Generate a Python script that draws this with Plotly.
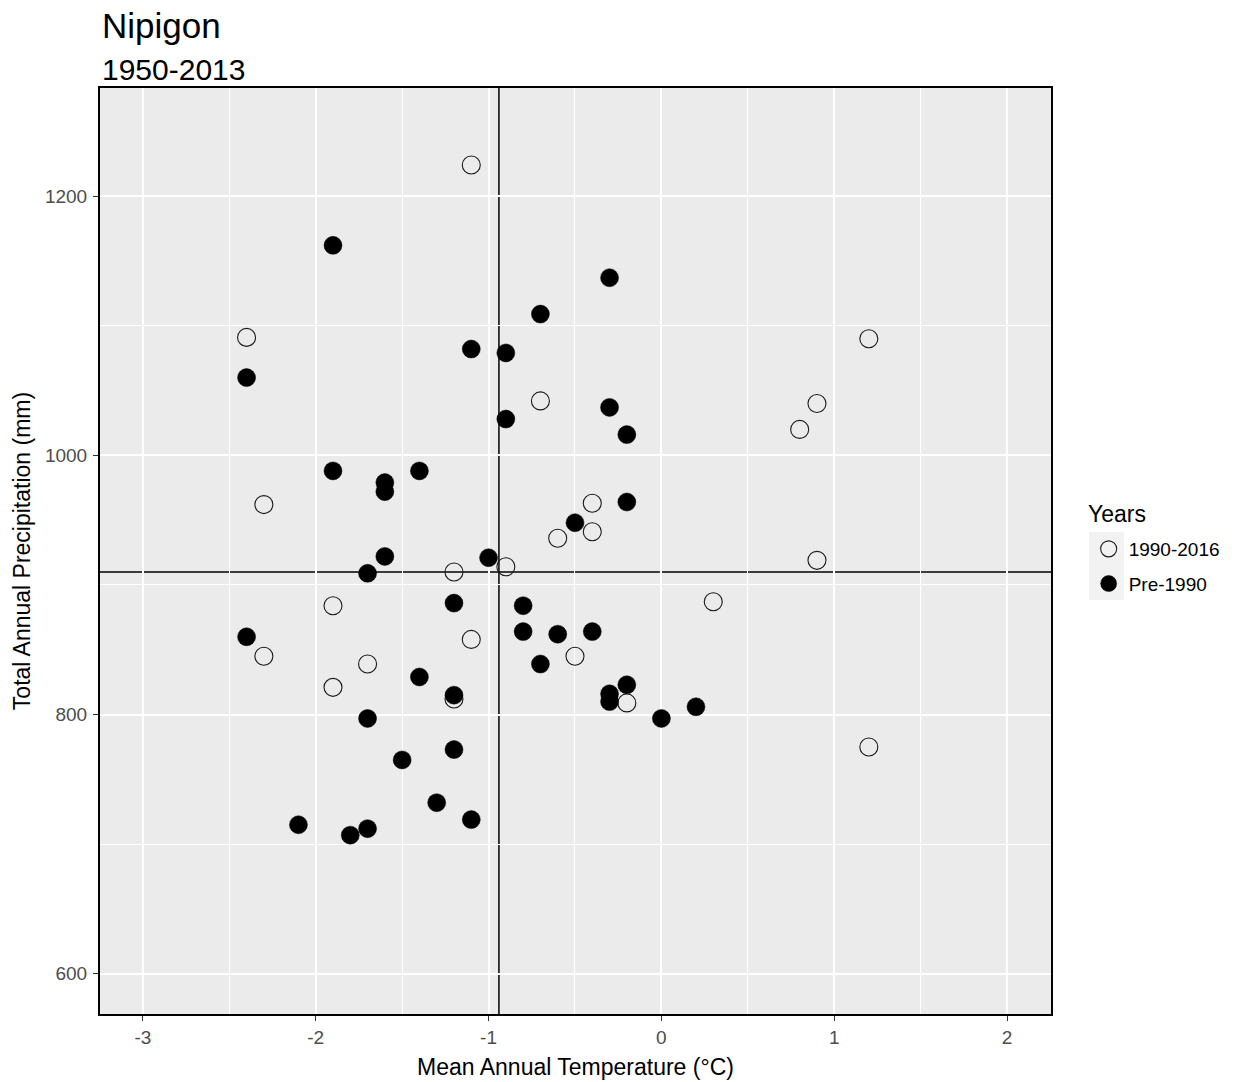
import plotly.graph_objects as go

# ---- data ----
recent_temp = [-1.1, -2.4, -2.3, -0.7, 1.2, 0.9, 0.8, -0.4, -0.4, -0.6, -0.9, -1.2,
               0.9, -1.9, 0.3, -1.1, -2.3, -0.5, -1.7, -1.9, -1.2, -0.2, 1.2]
recent_precip = [1224, 1091, 962, 1042, 1090, 1040, 1020, 963, 941, 936, 914, 910,
                 919, 884, 887, 858, 845, 845, 839, 821, 812, 809, 775]

pre_temp = [-1.9, -0.3, -0.7, -1.1, -0.9, -2.4, -0.9, -0.3, -0.2, -1.9, -1.6, -1.6,
            -1.4, -0.2, -0.5, -1.6, -1.0, -1.7, -1.2, -0.8, -0.8, -0.6, -0.4, -2.4,
            -0.7, -1.4, -0.2, -0.3, -0.3, -1.2, 0.2, 0.0, -1.7, -1.2, -1.5, -1.3,
            -1.1, -2.1, -1.7, -1.8]
pre_precip = [1162, 1137, 1109, 1082, 1079, 1060, 1028, 1037, 1016, 988, 979, 972,
              988, 964, 948, 922, 921, 909, 886, 884, 864, 862, 864, 860,
              839, 829, 823, 816, 810, 815, 806, 797, 797, 773, 765, 732,
              719, 715, 712, 707]

mean_temp = -0.94
mean_precip = 910

series_names = ["1990-2016", "Pre-1990"]
legend_title = "Years"
x_ticks = [-3, -2, -1, 0, 1, 2]
y_ticks = [600, 800, 1000, 1200]

FONT = "Liberation Sans, Arial, sans-serif"

fig = go.Figure()
fig.add_trace(go.Scatter(
    x=recent_temp, y=recent_precip, mode="markers", name=series_names[0],
    legendgroup="a",
    marker=dict(symbol="circle-open", size=18, color="#1a1a1a", line=dict(width=1.1)),
))
fig.add_trace(go.Scatter(
    x=pre_temp, y=pre_precip, mode="markers", name=series_names[1],
    legendgroup="b",
    marker=dict(symbol="circle", size=18, color="black", line=dict(width=0.5, color="black")),
))

fig.add_vline(x=mean_temp, line=dict(color="black", width=1.5), layer="below")
fig.add_hline(y=mean_precip, line=dict(color="black", width=1.5), layer="below")

# legend key backgrounds (ggplot-style grey key boxes)
key_x0, key_x1 = 1.0399, 1.0767
key_rows = [(0.4827, 0.5205), (0.4471, 0.4827)]
for y0, y1 in key_rows:
    fig.add_shape(type="rect", xref="paper", yref="paper", x0=key_x0, x1=key_x1,
                  y0=y0, y1=y1, fillcolor="#F2F2F2", line=dict(width=0), layer="below")

axis_common = dict(
    showgrid=True, gridcolor="white", gridwidth=1.6, automargin=False,
    zeroline=False, showline=True, mirror=True, linecolor="black", linewidth=2,
    ticks="outside", ticklen=5, tickwidth=1.3, tickcolor="#333333",
    tickfont=dict(family=FONT, size=19, color="#4D4D4D"),
    title_font=dict(family=FONT, size=23, color="black"),
)

fig.update_xaxes(
    **axis_common,
    range=[-3.248, 2.254], tickvals=x_ticks, ticktext=[str(v) for v in x_ticks],
    minor=dict(tickvals=[-2.5, -1.5, -0.5, 0.5, 1.5], showgrid=True, gridcolor="white", gridwidth=0.8, ticks=""),
    ticklabelstandoff=0,
    title_text="Mean Annual Temperature (°C)", title_standoff=12,
)
fig.update_yaxes(
    **axis_common,
    range=[569, 1283.4], tickvals=y_ticks, ticktext=[str(v) for v in y_ticks],
    minor=dict(tickvals=[700, 900, 1100], showgrid=True, gridcolor="white", gridwidth=0.8, ticks=""),
    ticklabelstandoff=2,
    title_text="Total Annual Precipitation (mm)", title_standoff=8,
)

fig.update_layout(
    width=1236, height=1082,
    margin=dict(l=100, r=184, t=88, b=68),
    paper_bgcolor="white", plot_bgcolor="#EBEBEB",
    font=dict(family=FONT, color="black"),
    showlegend=True,
    legend=dict(
        font=dict(family=FONT, size=19, color="black"),
        x=1.0385, xanchor="left", y=0.5227, yanchor="top",
        bgcolor="rgba(0,0,0,0)", itemsizing="trace", tracegroupgap=7,
    ),
    annotations=[
        dict(text="Nipigon", xref="paper", yref="paper", x=0, y=1.068,
             xanchor="left", yanchor="middle", showarrow=False,
             font=dict(family=FONT, size=35, color="black")),
        dict(text="1950-2013", xref="paper", yref="paper", x=0, y=1.0205,
             xanchor="left", yanchor="middle", showarrow=False,
             font=dict(family=FONT, size=30, color="black")),
        dict(text=legend_title, xref="paper", yref="paper", x=1.0367, y=0.54,
             xanchor="left", yanchor="middle", showarrow=False,
             font=dict(family=FONT, size=23, color="black")),
    ],
)

fig.write_html("out.html")
